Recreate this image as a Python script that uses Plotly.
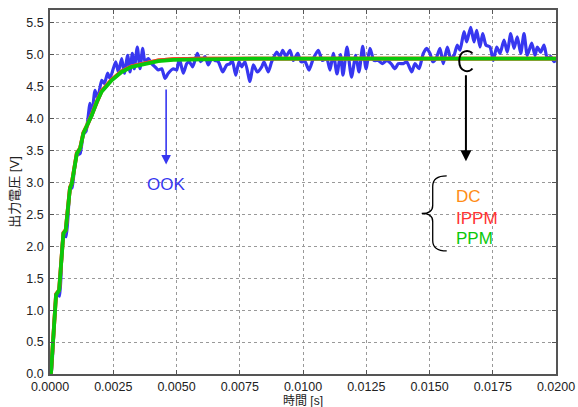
import numpy as np
import plotly.graph_objects as go

# time in milliseconds (converted to seconds below)
t_ook_ms = [0, 0.04, 0.08, 0.237, 0.277, 0.375, 0.526, 0.632, 0.791, 0.870, 1.055, 1.186, 1.316, 1.423,
            1.490, 1.581, 1.648, 1.779, 1.885, 2.043, 2.146, 2.281, 2.372, 2.597, 2.700, 2.834, 2.937,
            3.071, 3.162, 3.253, 3.332, 3.451, 3.557, 3.664, 3.755, 3.885, 4.020, 4.150, 4.281, 4.415,
            4.545, 4.676, 4.874, 5.008, 5.111, 5.269, 5.403, 5.506, 5.640, 5.822, 5.956, 6.127, 6.257,
            6.391, 6.522, 6.652, 6.826, 6.984, 7.115, 7.206, 7.340, 7.470, 7.577, 7.708, 7.905, 8.036,
            8.194, 8.368, 8.459, 8.628, 8.763, 8.960, 9.091, 9.198, 9.328, 9.486, 9.617, 9.791, 9.921,
            10.079, 10.237, 10.407, 10.605, 10.763, 10.937, 11.067, 11.198, 11.344, 11.482, 11.581,
            11.739, 11.917, 12.083, 12.214, 12.360, 12.490, 12.648, 12.806, 12.976, 13.134, 13.308,
            13.478, 13.636, 13.767, 13.964, 14.099, 14.296, 14.427, 14.585, 14.755, 14.889, 15.020,
            15.126, 15.257, 15.415, 15.545, 15.703, 15.838, 15.968, 16.099, 16.206, 16.364, 16.470,
            16.628, 16.759, 16.866, 16.996, 17.103, 17.233, 17.391, 17.522, 17.656, 17.787, 17.945,
            18.075, 18.210, 18.340, 18.470, 18.605, 18.735, 18.866, 19.040, 19.170, 19.261, 19.395,
            19.526, 19.656, 19.791, 19.921, 20.000]
v_ook = [0.0, 0.0, 0.15, 1.20, 1.25, 1.22, 2.18, 2.15, 2.88, 2.92, 3.42, 3.45, 3.75, 3.80,
         3.97, 4.24, 4.03, 4.44, 4.31, 4.60, 4.55, 4.71, 4.63, 4.89, 4.73, 4.94, 4.71,
         4.99, 4.73, 5.02, 4.78, 5.12, 4.78, 5.10, 4.89, 4.94, 4.86, 4.81, 4.76, 4.78,
         4.63, 4.71, 4.78, 4.76, 4.94, 4.71, 4.86, 4.89, 4.81, 5.02, 4.89, 4.97, 4.84,
         4.94, 4.91, 4.89, 4.73, 4.84, 4.86, 4.91, 4.68, 4.89, 4.81, 4.89, 4.58, 4.84,
         4.73, 4.81, 4.89, 4.73, 4.89, 5.04, 4.97, 5.07, 4.97, 5.07, 4.91, 5.02, 4.89,
         4.89, 4.76, 4.94, 5.07, 4.91, 4.94, 4.76, 5.02, 4.70, 5.00, 4.68,
         5.12, 4.65, 4.99, 4.73, 5.13, 4.78, 5.10, 4.91, 4.91, 4.86, 4.91,
         4.86, 4.78, 4.86, 4.86, 4.89, 4.73, 4.86, 4.78, 5.02, 5.10, 5.02,
         4.89, 4.94, 5.10, 4.86, 5.12, 4.94, 4.99, 5.15, 5.07, 5.36, 5.20,
         5.43, 5.20, 5.38, 5.12, 5.33, 5.15, 5.12, 4.91, 5.12, 5.02, 5.23,
         5.04, 5.33, 5.10, 5.28, 5.02, 5.33, 4.99, 5.18, 4.99, 5.12, 5.04,
         5.15, 4.94, 4.97, 4.89, 4.92]

t_ref_ms = [0, 0.04, 0.24, 0.36, 0.53, 0.62, 0.79, 0.86, 1.06, 1.19, 1.32, 1.45, 1.65, 1.85, 2.04,
            2.44, 2.83, 3.23, 3.76, 4.28, 4.87, 6.0, 8.0, 10.0, 12.0, 14.0, 16.0, 18.0, 20.0]
v_dc = [0, 0.02, 1.25, 1.32, 2.21, 2.26, 2.92, 2.99, 3.46, 3.54, 3.78, 3.88, 4.06, 4.27, 4.43,
        4.61, 4.74, 4.82, 4.87, 4.91, 4.93, 4.94, 4.94, 4.94, 4.94, 4.94, 4.94, 4.94, 4.94]
v_ippm = [0, 0.02, 1.25, 1.31, 2.21, 2.25, 2.92, 2.98, 3.46, 3.53, 3.78, 3.87, 4.06, 4.27, 4.43,
          4.61, 4.74, 4.82, 4.87, 4.91, 4.93, 4.94, 4.94, 4.94, 4.94, 4.94, 4.94, 4.94, 4.94]
v_ppm = [0, 0.02, 1.24, 1.31, 2.20, 2.25, 2.91, 2.98, 3.45, 3.53, 3.77, 3.87, 4.05, 4.26, 4.42,
         4.60, 4.73, 4.81, 4.86, 4.90, 4.92, 4.93, 4.94, 4.94, 4.94, 4.94, 4.94, 4.94, 4.94]

x_ticks = [0.0, 0.0025, 0.005, 0.0075, 0.01, 0.0125, 0.015, 0.0175, 0.02]
y_ticks = [0.0, 0.5, 1.0, 1.5, 2.0, 2.5, 3.0, 3.5, 4.0, 4.5, 5.0, 5.5]

t_ook = np.array(t_ook_ms) / 1000.0
t_ref = np.array(t_ref_ms) / 1000.0

BLUE = "rgb(55,55,240)"
FONT = "Liberation Sans, Arial, Noto Sans CJK JP, sans-serif"

fig = go.Figure()
fig.add_trace(go.Scatter(x=t_ook, y=v_ook, mode="lines", name="OOK",
                         line=dict(color=BLUE, width=3.2, shape="spline", smoothing=0.6)))
fig.add_trace(go.Scatter(x=t_ref, y=v_dc, mode="lines", name="DC",
                         line=dict(color="rgb(255,140,20)", width=3.8)))
fig.add_trace(go.Scatter(x=t_ref, y=v_ippm, mode="lines", name="IPPM",
                         line=dict(color="rgb(255,50,50)", width=3.8)))
fig.add_trace(go.Scatter(x=t_ref, y=v_ppm, mode="lines", name="PPM",
                         line=dict(color="rgb(10,200,10)", width=3.8)))

ann = []
# OOK arrow + label
ann.append(dict(x=0.00459, y=3.28, ax=0.00459, ay=4.48, xref="x", yref="y", axref="x", ayref="y",
                showarrow=True, arrowhead=2, arrowsize=1.2, arrowwidth=1.6, arrowcolor=BLUE, text=""))
ann.append(dict(x=0.00459, y=2.97, xref="x", yref="y", text="OOK", showarrow=False,
                font=dict(color=BLUE, size=17, family=FONT)))
# black arrow
ann.append(dict(x=0.01644, y=3.33, ax=0.01644, ay=4.70, xref="x", yref="y", axref="x", ayref="y",
                showarrow=True, arrowhead=2, arrowsize=1.1, arrowwidth=2, arrowcolor="black", text=""))
# labels
ann.append(dict(x=0.01595, y=2.78, xref="x", yref="y", text="DC", showarrow=False, xanchor="left",
                font=dict(color="rgb(255,140,20)", size=17, family=FONT)))
ann.append(dict(x=0.01595, y=2.44, xref="x", yref="y", text="IPPM", showarrow=False, xanchor="left",
                font=dict(color="rgb(255,50,50)", size=17, family=FONT)))
ann.append(dict(x=0.01595, y=2.12, xref="x", yref="y", text="PPM", showarrow=False, xanchor="left",
                font=dict(color="rgb(10,200,10)", size=17, family=FONT)))
# x-axis title placed at bottom of page
ann.append(dict(x=0.5, y=0, xref="paper", yref="paper", yanchor="bottom", yshift=-35,
                text="時間 [s]", showarrow=False, borderpad=0,
                font=dict(size=12, family=FONT, color="#222222")))

shapes = [
    # brace
    dict(type="path", xref="x", yref="y", xsizemode="pixel", ysizemode="pixel",
         xanchor=0.014692, yanchor=2.515,
         path="M 25 37.5 Q 11 37.5 11 27 L 11 8 Q 11 0 0 0 Q 11 0 11 -8 L 11 -27 Q 11 -37.5 25 -37.5",
         line=dict(color="black", width=1.3)),
    # "C"-shaped marker around the lines
    dict(type="path", xref="x", yref="y", xsizemode="pixel", ysizemode="pixel",
         xanchor=0.01644, yanchor=4.90,
         path="M 6.5 7.5 C 4 11.5 -6.7 12 -6.7 0 C -6.7 -12 4 -11.5 6.5 -7.5",
         line=dict(color="black", width=2)),
]

axis_common = dict(showline=True, linecolor="#555555", linewidth=1.5, mirror="ticks",
                   ticks="inside", ticklen=4, tickcolor="#555555", automargin=False,
                   showgrid=True, gridcolor="#999999", griddash="dot", gridwidth=1,
                   zeroline=False, tickfont=dict(size=12.5, color="#222222", family=FONT))

fig.update_layout(
    width=578, height=407,
    margin=dict(l=50, r=22, t=10, b=33),
    plot_bgcolor="white", paper_bgcolor="white",
    showlegend=False,
    annotations=ann, shapes=shapes,
    xaxis=dict(range=[0, 0.02], tickvals=x_ticks, tickformat=".4f", ticklabelstandoff=0,
               **axis_common),
    yaxis=dict(range=[0, 5.7], tickvals=y_ticks, tickformat=".1f", ticklabelstandoff=2,
               title=dict(text="出力電圧 [V]", standoff=4, font=dict(size=13, family=FONT, color="#222222")),
               **axis_common),
)

fig.write_html("out.html")
